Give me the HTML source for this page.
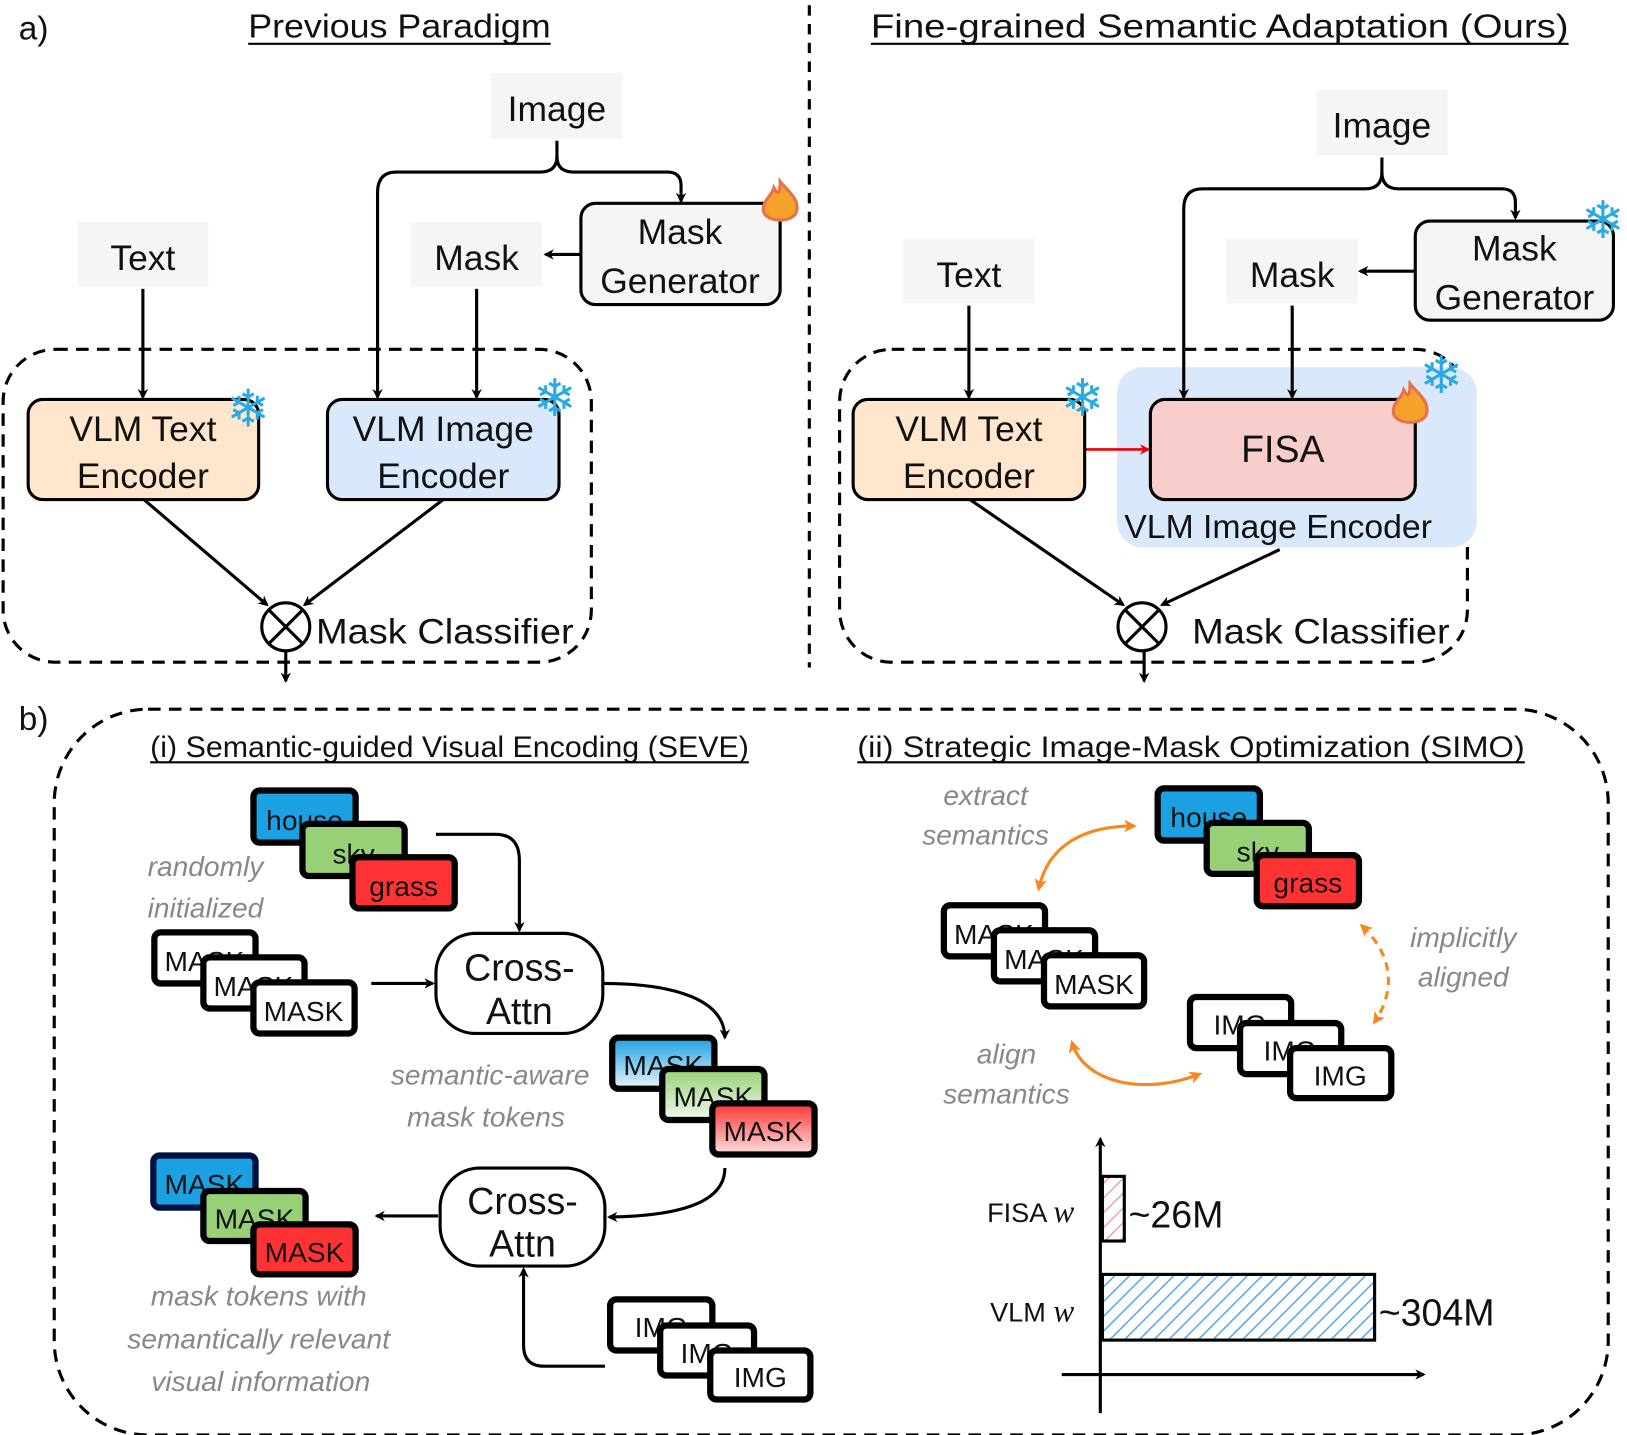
<!DOCTYPE html>
<html><head><meta charset="utf-8"><style>
html,body{margin:0;padding:0;background:#fff}
svg{display:block}
text{font-family:"Liberation Sans",sans-serif;fill:#111}
.g{fill:#888;font-style:italic}
.sf{fill:#29aae1}
</style></head><body>
<svg width="1627" height="1435" viewBox="0 0 1560 1376" preserveAspectRatio="none" xmlns="http://www.w3.org/2000/svg">
<defs>
<marker id="a" markerWidth="10" markerHeight="10" refX="8" refY="5" orient="auto" markerUnits="userSpaceOnUse"><path d="M0,0 L10,5 L0,10 L3,5z" fill="#000"/></marker>
<marker id="ar" markerWidth="10" markerHeight="10" refX="8" refY="5" orient="auto" markerUnits="userSpaceOnUse"><path d="M0,0 L10,5 L0,10 L3,5z" fill="#e00"/></marker>
<marker id="ao" markerWidth="12" markerHeight="12" refX="9" refY="6" orient="auto-start-reverse" markerUnits="userSpaceOnUse"><path d="M0,0 L12,6 L0,12 L3,6z" fill="#f5891f"/></marker>
<linearGradient id="gb" x1="0" y1="0" x2="0" y2="1"><stop offset="0" stop-color="#1ba1e2"/><stop offset="1" stop-color="#e8f4fc"/></linearGradient>
<linearGradient id="gg" x1="0" y1="0" x2="0" y2="1"><stop offset="0" stop-color="#97d077"/><stop offset="1" stop-color="#f0f8ec"/></linearGradient>
<linearGradient id="gr" x1="0" y1="0" x2="0" y2="1"><stop offset="0" stop-color="#ff3333"/><stop offset="1" stop-color="#fde0e0"/></linearGradient>
<pattern id="hb" width="10" height="10" patternUnits="userSpaceOnUse" patternTransform="rotate(45)"><rect width="10" height="10" fill="#fff"/><line x1="0" y1="0" x2="0" y2="10" stroke="#5aa9ef" stroke-width="3"/></pattern>
<pattern id="hr" width="10" height="10" patternUnits="userSpaceOnUse" patternTransform="rotate(45)"><rect width="10" height="10" fill="#fff"/><line x1="0" y1="0" x2="0" y2="10" stroke="#f08080" stroke-width="2"/></pattern>
<g id="fire"><path d="M0,-22 C8,-12 18,-6 16,6 C14,18 -14,18 -16,6 C-17,-4 -8,-8 -6,-16 C-3,-10 0,-8 0,-22z" fill="#f4a22a" stroke="#e8704a" stroke-width="3"/></g>
</defs>

<!-- a) -->
<text x="18" y="38" font-size="32">a)</text>
<text x="238" y="36" font-size="32" textLength="290" lengthAdjust="spacingAndGlyphs">Previous Paradigm</text>
<line x1="238" y1="42" x2="528" y2="42" stroke="#000" stroke-width="2"/>
<text x="835" y="36" font-size="32" textLength="669" lengthAdjust="spacingAndGlyphs">Fine-grained Semantic Adaptation (Ours)</text>
<line x1="835" y1="42" x2="1504" y2="42" stroke="#000" stroke-width="2"/>
<line x1="776" y1="5" x2="776" y2="640" stroke="#000" stroke-width="3" stroke-dasharray="10,8"/>

<g fill="none" stroke="#000" stroke-width="3">
<rect x="3" y="335" width="564" height="300" rx="50" stroke-dasharray="12,8"/>
<rect x="805" y="335" width="602" height="300" rx="50" stroke-dasharray="12,8"/>
</g>

<!-- left -->
<rect x="471" y="70" width="126" height="63" fill="#f5f5f5"/><text x="534" y="116" font-size="34" text-anchor="middle" fill="#333">Image</text>
<rect x="75" y="213" width="125" height="62" fill="#f5f5f5"/><text x="137" y="259" font-size="34" text-anchor="middle" fill="#333">Text</text>
<rect x="394" y="213" width="126" height="62" fill="#f5f5f5"/><text x="457" y="259" font-size="34" text-anchor="middle" fill="#333">Mask</text>
<g fill="none" stroke="#000" stroke-width="3">
<path d="M534,135 V150 Q534,165 518,165 H380 Q362,165 362,185 V381" marker-end="url(#a)"/>
<path d="M534,150 Q534,165 550,165 H640 Q653,165 653,178 V193" marker-end="url(#a)"/>
<path d="M557,244 H523" marker-end="url(#a)"/>
<path d="M137,277 V381" marker-end="url(#a)"/>
<path d="M457,277 V381" marker-end="url(#a)"/>
<path d="M138,479 L256,580" marker-end="url(#a)"/>
<path d="M425,479 L292,580" marker-end="url(#a)"/>
<path d="M274,624 V653" marker-end="url(#a)"/>
</g>
<rect x="557" y="195" width="191" height="97" rx="14" fill="#f5f5f5" stroke="#000" stroke-width="3"/>
<text x="652" y="234" font-size="34" text-anchor="middle" fill="#333">Mask</text><text x="652" y="281" font-size="34" text-anchor="middle" fill="#333">Generator</text>
<use href="#fire" x="748" y="196"/>
<rect x="27" y="383" width="221" height="96" rx="14" fill="#ffe6cc" stroke="#000" stroke-width="3"/>
<text x="137" y="423" font-size="34" text-anchor="middle">VLM Text</text><text x="137" y="468" font-size="34" text-anchor="middle">Encoder</text>
<rect x="314" y="383" width="222" height="96" rx="14" fill="#dae8fc" stroke="#000" stroke-width="3"/>
<text x="425" y="423" font-size="34" text-anchor="middle">VLM Image</text><text x="425" y="468" font-size="34" text-anchor="middle">Encoder</text>
<text x="238" y="409" font-size="50" text-anchor="middle" class="sf">❄</text>
<text x="532" y="399" font-size="50" text-anchor="middle" class="sf">❄</text>
<circle cx="274" cy="601" r="23" fill="#fff" stroke="#000" stroke-width="3"/>
<path d="M258,585 L290,617 M290,585 L258,617" stroke="#000" stroke-width="3"/>
<text x="303" y="617" font-size="34" textLength="247" lengthAdjust="spacingAndGlyphs">Mask Classifier</text>

<!-- right -->
<rect x="1071" y="352" width="345" height="173" rx="25" fill="#dae8fc"/>
<rect x="1262" y="86" width="126" height="63" fill="#f5f5f5"/><text x="1325" y="132" font-size="34" text-anchor="middle" fill="#333">Image</text>
<rect x="866" y="229" width="126" height="62" fill="#f5f5f5"/><text x="929" y="275" font-size="34" text-anchor="middle" fill="#333">Text</text>
<rect x="1176" y="229" width="126" height="62" fill="#f5f5f5"/><text x="1239" y="275" font-size="34" text-anchor="middle" fill="#333">Mask</text>
<g fill="none" stroke="#000" stroke-width="3">
<path d="M1325,151 V165 Q1325,181 1309,181 H1153 Q1135,181 1135,200 V381" marker-end="url(#a)"/>
<path d="M1325,165 Q1325,181 1341,181 H1440 Q1453,181 1453,194 V209" marker-end="url(#a)"/>
<path d="M1357,260 H1304" marker-end="url(#a)"/>
<path d="M929,293 V381" marker-end="url(#a)"/>
<path d="M1239,293 V381" marker-end="url(#a)"/>
<path d="M930,479 L1077,580" marker-end="url(#a)"/>
<path d="M1227,527 L1114,580" marker-end="url(#a)"/>
<path d="M1097,624 V653" marker-end="url(#a)"/>
</g>
<path d="M1040,431 H1101" stroke="#e00" stroke-width="2.5" marker-end="url(#ar)"/>
<rect x="1357" y="212" width="190" height="95" rx="14" fill="#f5f5f5" stroke="#000" stroke-width="3"/>
<text x="1452" y="250" font-size="34" text-anchor="middle" fill="#333">Mask</text><text x="1452" y="297" font-size="34" text-anchor="middle" fill="#333">Generator</text>
<text x="1537" y="228" font-size="50" text-anchor="middle" class="sf">❄</text>
<rect x="818" y="383" width="222" height="96" rx="14" fill="#ffe6cc" stroke="#000" stroke-width="3"/>
<text x="929" y="423" font-size="34" text-anchor="middle">VLM Text</text><text x="929" y="468" font-size="34" text-anchor="middle">Encoder</text>
<text x="1038" y="399" font-size="50" text-anchor="middle" class="sf">❄</text>
<rect x="1103" y="383" width="254" height="96" rx="14" fill="#f8cecc" stroke="#000" stroke-width="3"/>
<text x="1230" y="443" font-size="36" text-anchor="middle">FISA</text>
<use href="#fire" x="1352" y="390"/>
<text x="1382" y="377" font-size="50" text-anchor="middle" class="sf">❄</text>
<text x="1078" y="516" font-size="32" textLength="295" lengthAdjust="spacingAndGlyphs">VLM Image Encoder</text>
<circle cx="1095" cy="601" r="23" fill="#fff" stroke="#000" stroke-width="3"/>
<path d="M1079,585 L1111,617 M1111,585 L1079,617" stroke="#000" stroke-width="3"/>
<text x="1143" y="617" font-size="34" textLength="247" lengthAdjust="spacingAndGlyphs">Mask Classifier</text>

<!-- b) -->
<text x="18" y="700" font-size="32">b)</text>
<rect x="52" y="680" width="1490" height="696" rx="90" fill="none" stroke="#000" stroke-width="3" stroke-dasharray="12,8"/>
<text x="144" y="726" font-size="28" textLength="574" lengthAdjust="spacingAndGlyphs">(i) Semantic-guided Visual Encoding (SEVE)</text>
<line x1="144" y1="731" x2="718" y2="731" stroke="#000" stroke-width="2"/>
<text x="822" y="726" font-size="28" textLength="640" lengthAdjust="spacingAndGlyphs">(ii) Strategic Image-Mask Optimization (SIMO)</text>
<line x1="822" y1="731" x2="1462" y2="731" stroke="#000" stroke-width="2"/>

<g stroke="#000" stroke-width="6" font-size="27">
<rect x="243" y="758" width="98" height="50" rx="6" fill="#1ba1e2"/><text x="292" y="796" text-anchor="middle" stroke="none" fill="#222">house</text>
<rect x="290" y="790" width="98" height="50" rx="6" fill="#97d077"/><text x="339" y="828" text-anchor="middle" stroke="none" fill="#222">sky</text>
<rect x="338" y="822" width="98" height="49" rx="6" fill="#ff3333"/><text x="387" y="859" text-anchor="middle" stroke="none" fill="#222">grass</text>

<rect x="148" y="894" width="97" height="49" rx="6" fill="#fff"/><text x="196" y="931" text-anchor="middle" stroke="none">MASK</text>
<rect x="195" y="918" width="97" height="49" rx="6" fill="#fff"/><text x="243" y="955" text-anchor="middle" stroke="none">MASK</text>
<rect x="243" y="942" width="97" height="49" rx="6" fill="#fff"/><text x="291" y="979" text-anchor="middle" stroke="none">MASK</text>

<rect x="587" y="995" width="98" height="49" rx="6" fill="url(#gb)"/><text x="636" y="1031" text-anchor="middle" stroke="none">MASK</text>
<rect x="635" y="1025" width="98" height="49" rx="6" fill="url(#gg)"/><text x="684" y="1061" text-anchor="middle" stroke="none">MASK</text>
<rect x="683" y="1058" width="98" height="49" rx="6" fill="url(#gr)"/><text x="732" y="1094" text-anchor="middle" stroke="none">MASK</text>

<rect x="147" y="1108" width="98" height="50" rx="6" fill="#1ba1e2" stroke="#001040"/><text x="196" y="1145" text-anchor="middle" stroke="none">MASK</text>
<rect x="195" y="1142" width="98" height="48" rx="6" fill="#97d077"/><text x="244" y="1178" text-anchor="middle" stroke="none">MASK</text>
<rect x="243" y="1174" width="98" height="48" rx="6" fill="#ff3333"/><text x="292" y="1210" text-anchor="middle" stroke="none">MASK</text>

<rect x="585" y="1246" width="98" height="49" rx="6" fill="#fff"/><text x="634" y="1282" text-anchor="middle" stroke="none">IMG</text>
<rect x="633" y="1271" width="90" height="48" rx="6" fill="#fff"/><text x="678" y="1307" text-anchor="middle" stroke="none">IMG</text>
<rect x="681" y="1295" width="96" height="47" rx="6" fill="#fff"/><text x="729" y="1330" text-anchor="middle" stroke="none">IMG</text>

<rect x="1110" y="756" width="98" height="50" rx="6" fill="#1ba1e2"/><text x="1159" y="793" text-anchor="middle" stroke="none" fill="#222">house</text>
<rect x="1157" y="789" width="98" height="49" rx="6" fill="#97d077"/><text x="1206" y="826" text-anchor="middle" stroke="none" fill="#222">sky</text>
<rect x="1205" y="820" width="98" height="49" rx="6" fill="#ff3333"/><text x="1254" y="856" text-anchor="middle" stroke="none" fill="#222">grass</text>

<rect x="905" y="868" width="97" height="49" rx="6" fill="#fff"/><text x="953" y="905" text-anchor="middle" stroke="none">MASK</text>
<rect x="953" y="892" width="97" height="49" rx="6" fill="#fff"/><text x="1001" y="929" text-anchor="middle" stroke="none">MASK</text>
<rect x="1001" y="916" width="96" height="49" rx="6" fill="#fff"/><text x="1049" y="953" text-anchor="middle" stroke="none">MASK</text>

<rect x="1141" y="956" width="97" height="49" rx="6" fill="#fff"/><text x="1189" y="992" text-anchor="middle" stroke="none">IMG</text>
<rect x="1189" y="981" width="97" height="49" rx="6" fill="#fff"/><text x="1237" y="1017" text-anchor="middle" stroke="none">IMG</text>
<rect x="1237" y="1005" width="97" height="48" rx="6" fill="#fff"/><text x="1285" y="1041" text-anchor="middle" stroke="none">IMG</text>
</g>

<g font-size="27">
<text class="g" x="197" y="840" text-anchor="middle">randomly</text>
<text class="g" x="197" y="880" text-anchor="middle">initialized</text>
<text class="g" x="470" y="1040" text-anchor="middle">semantic-aware</text>
<text class="g" x="466" y="1080" text-anchor="middle">mask tokens</text>
<text class="g" x="248" y="1252" text-anchor="middle">mask tokens with</text>
<text class="g" x="248" y="1293" text-anchor="middle">semantically relevant</text>
<text class="g" x="250" y="1334" text-anchor="middle">visual information</text>
<text class="g" x="945" y="772" text-anchor="middle">extract</text>
<text class="g" x="945" y="810" text-anchor="middle">semantics</text>
<text class="g" x="1403" y="908" text-anchor="middle">implicitly</text>
<text class="g" x="1403" y="946" text-anchor="middle">aligned</text>
<text class="g" x="965" y="1020" text-anchor="middle">align</text>
<text class="g" x="965" y="1058" text-anchor="middle">semantics</text>
</g>

<rect x="418" y="895" width="160" height="96" rx="38" fill="#fff" stroke="#000" stroke-width="3"/>
<text x="498" y="940" font-size="36" text-anchor="middle">Cross-</text><text x="498" y="982" font-size="36" text-anchor="middle">Attn</text>
<rect x="422" y="1120" width="158" height="94" rx="38" fill="#fff" stroke="#000" stroke-width="3"/>
<text x="501" y="1164" font-size="36" text-anchor="middle">Cross-</text><text x="501" y="1205" font-size="36" text-anchor="middle">Attn</text>

<g fill="none" stroke="#000" stroke-width="3">
<path d="M418,800 H475 Q498,800 498,825 V892" marker-end="url(#a)"/>
<path d="M356,943 H415" marker-end="url(#a)"/>
<path d="M578,943 C650,943 695,960 695,995" marker-end="url(#a)"/>
<path d="M695,1120 C695,1150 660,1166 584,1167" marker-end="url(#a)"/>
<path d="M420,1166 H361" marker-end="url(#a)"/>
<path d="M580,1310 H522 Q502,1310 502,1290 V1217" marker-end="url(#a)"/>
</g>
<g fill="none" stroke="#f5891f" stroke-width="3">
<path d="M996,852 C1005,810 1040,792 1087,792" marker-start="url(#ao)" marker-end="url(#ao)"/>
<path d="M1306,888 C1340,920 1335,955 1318,980" stroke-dasharray="8,6" marker-start="url(#ao)" marker-end="url(#ao)"/>
<path d="M1028,1000 C1040,1040 1100,1050 1150,1030" marker-start="url(#ao)" marker-end="url(#ao)"/>
</g>

<g fill="none" stroke="#000" stroke-width="3">
<path d="M1055,1355 V1092" marker-end="url(#a)"/>
<path d="M1018,1318 H1365" marker-end="url(#a)"/>
</g>
<rect x="1057" y="1128" width="21" height="62" fill="url(#hr)" stroke="#000" stroke-width="3"/>
<rect x="1057" y="1222" width="261" height="63" fill="url(#hb)" stroke="#000" stroke-width="3"/>
<text x="1082" y="1177" font-size="36">~26M</text>
<text x="1322" y="1271" font-size="36">~304M</text>
<text x="1030" y="1172" font-size="26" text-anchor="end">FISA <tspan font-family="Liberation Serif" font-style="italic" font-size="30">w</tspan></text>
<text x="1030" y="1267" font-size="26" text-anchor="end">VLM <tspan font-family="Liberation Serif" font-style="italic" font-size="30">w</tspan></text>
</svg>
</body></html>
